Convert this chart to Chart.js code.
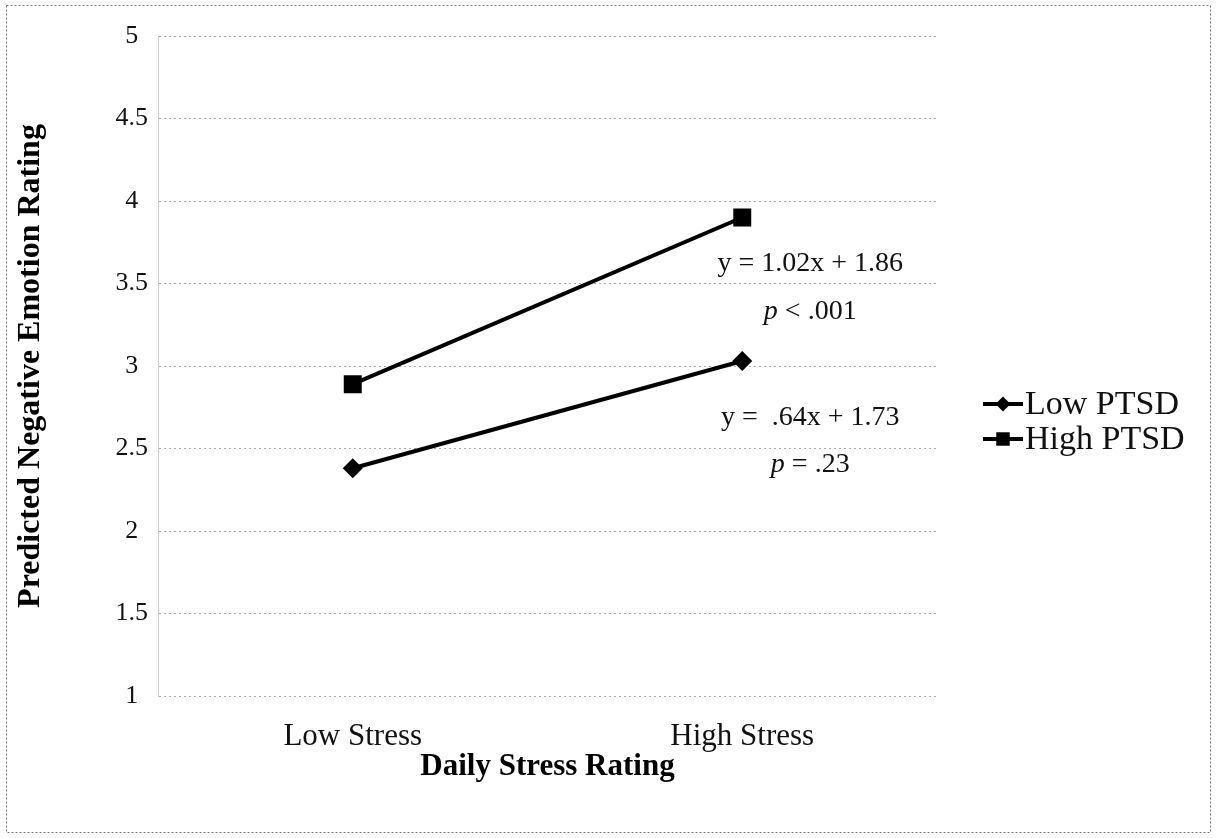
<!DOCTYPE html>
<html>
<head>
<meta charset="utf-8">
<script src="https://cdn.jsdelivr.net/npm/chart.js@4"></script>
<style>
  body { margin: 0; background: #fff; }
  #wrap { width: 1216px; height: 838px; position: relative; }
</style>
</head>
<body>
<div id="wrap"><canvas id="chart"></canvas></div>
<script>
// data
let categories = ["Low Stress", "High Stress"];
let lowPtsd = [2.38, 3.03];
let highPtsd = [2.89, 3.90];
let seriesNames = ["Low PTSD", "High PTSD"];

// slope notes next to the high-stress points
let noteItalic = ["", "p", "", "p"];
let noteText = ["y = 1.02x + 1.86", " < .001", "y =  .64x + 1.73", " = .23"];
let noteY = [3.62, 3.33, 2.69, 2.40];

const serif = "'Liberation Serif', 'Times New Roman', serif";

const frame = {
    id: "frame",
    beforeDraw(chart) {
        let ctx = chart.ctx;
        ctx.save();
        ctx.fillStyle = "#fff";
        ctx.fillRect(0, 0, chart.width, chart.height);
        ctx.strokeStyle = "#777";
        ctx.lineWidth = 1;
        ctx.setLineDash([2, 2]);
        ctx.strokeRect(6.5, 5.5, chart.width - 12, chart.height - 11);
        ctx.restore();
    }
};

const notes = {
    id: "notes",
    afterDatasetsDraw(chart) {
        let ctx = chart.ctx;
        let x = chart.scales.x.getPixelForValue(1) + 68;
        ctx.save();
        ctx.fillStyle = "#111";
        ctx.textBaseline = "middle";
        ctx.textAlign = "left";
        noteText.forEach((t, i) => {
            let y = chart.scales.y.getPixelForValue(noteY[i]);
            ctx.font = "italic 28px " + serif;
            let w1 = ctx.measureText(noteItalic[i]).width;
            ctx.font = "28px " + serif;
            let w2 = ctx.measureText(t).width;
            let start = x - (w1 + w2) / 2;
            ctx.font = "italic 28px " + serif;
            ctx.fillText(noteItalic[i], start, y);
            ctx.font = "28px " + serif;
            ctx.fillText(t, start + w1, y);
        });
        ctx.restore();
    }
};

const sideLegend = {
    id: "sideLegend",
    afterDraw(chart) {
        let ctx = chart.ctx;
        ctx.save();
        chart.data.datasets.forEach((ds, i) => {
            let y = 404 + i * 35;
            ctx.strokeStyle = "#000";
            ctx.lineWidth = 4;
            ctx.beginPath();
            ctx.moveTo(983, y);
            ctx.lineTo(1023, y);
            ctx.stroke();
            ctx.fillStyle = "#000";
            Chart.helpers.drawPoint(ctx, { pointStyle: ds.pointStyle, radius: ds.pointRadius * 0.75, borderWidth: 0 }, 1003, y);
            ctx.font = "34px " + serif;
            ctx.textBaseline = "middle";
            ctx.fillStyle = "#111";
            ctx.fillText(seriesNames[i], 1025, y + 1);
        });
        ctx.restore();
    }
};

new Chart(document.getElementById("chart"), {
    type: "line",
    data: {
        labels: categories,
        datasets: [
            {
                label: seriesNames[0],
                data: lowPtsd,
                borderColor: "#000",
                backgroundColor: "#000",
                borderWidth: 4,
                pointStyle: "rectRot",
                pointRadius: 10,
                pointBorderWidth: 0
            },
            {
                label: seriesNames[1],
                data: highPtsd,
                borderColor: "#000",
                backgroundColor: "#000",
                borderWidth: 4,
                pointStyle: "rect",
                pointRadius: 12.7,
                pointBorderWidth: 0
            }
        ]
    },
    options: {
        responsive: true,
        maintainAspectRatio: false,
        animation: false,
        layout: { padding: { left: 8, right: 279, top: 36, bottom: 50 } },
        plugins: {
            legend: { display: false },
            tooltip: { enabled: false }
        },
        scales: {
            x: {
                offset: true,
                grid: { display: false },
                border: { display: false },
                ticks: { color: "#111", font: { family: serif, size: 31 }, padding: 14 },
                title: {
                    display: true,
                    text: "Daily Stress Rating",
                    color: "#000",
                    font: { family: serif, size: 31, weight: "bold" },
                    padding: { top: 0, bottom: 2 }
                },
                afterFit: s => { s.height = 92; }
            },
            y: {
                min: 1,
                max: 5,
                ticks: {
                    stepSize: 0.5,
                    color: "#111",
                    font: { family: serif, size: 26 },
                    padding: 10,
                    crossAlign: "center",
                    callback: v => String(v)
                },
                grid: {
                    color: "#aaa",
                    drawTicks: false
                },
                border: { display: true, color: "#ccc", dash: [2, 3] },
                title: {
                    display: true,
                    text: "Predicted Negative Emotion Rating",
                    color: "#000",
                    font: { family: serif, size: 32, weight: "bold" }
                },
                afterFit: s => { s.width = 150; }
            }
        }
    },
    plugins: [frame, notes, sideLegend]
});
</script>
</body>
</html>
